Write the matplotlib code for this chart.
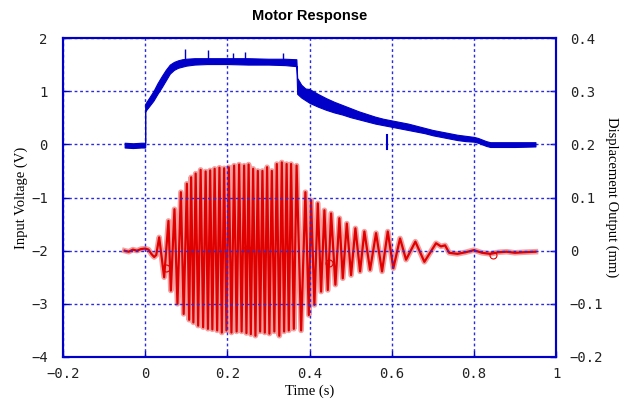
import matplotlib
matplotlib.use("Agg")
import matplotlib.pyplot as plt
from matplotlib.ticker import FuncFormatter, FixedLocator

# ---------------- data ----------------
# Input voltage (V): noisy band given as lower / upper edges
blue_t  = [-0.050, -0.030, -0.010, 0.000, 0.000, 0.010, 0.020, 0.030, 0.040, 0.050, 0.060, 0.070,
           0.080, 0.090, 0.100, 0.120, 0.150, 0.200, 0.250, 0.300, 0.340, 0.368, 0.370, 0.380,
           0.390, 0.400, 0.420, 0.440, 0.460, 0.480, 0.500, 0.520, 0.540, 0.560, 0.580, 0.600,
           0.620, 0.640, 0.660, 0.680, 0.700, 0.720, 0.740, 0.760, 0.780, 0.800, 0.810, 0.820,
           0.830, 0.840, 0.860, 0.900, 0.950]
blue_lo = [-0.06, -0.07, -0.06, -0.06, 0.62, 0.72, 0.82, 0.95, 1.07, 1.20, 1.33, 1.40,
           1.44, 1.46, 1.48, 1.50, 1.51, 1.51, 1.50, 1.50, 1.49, 1.47, 0.95, 0.88,
           0.83, 0.78, 0.71, 0.65, 0.60, 0.56, 0.51, 0.47, 0.43, 0.39, 0.36, 0.33,
           0.30, 0.27, 0.24, 0.21, 0.17, 0.14, 0.11, 0.08, 0.06, 0.05, 0.03, 0.00,
           -0.03, -0.05, -0.05, -0.05, -0.04]
blue_hi = [0.03, 0.02, 0.03, 0.03, 0.76, 0.88, 1.00, 1.15, 1.28, 1.40, 1.50, 1.55,
           1.58, 1.60, 1.61, 1.62, 1.62, 1.62, 1.62, 1.61, 1.61, 1.60, 1.25, 1.12,
           1.05, 1.04, 0.95, 0.87, 0.80, 0.74, 0.68, 0.62, 0.57, 0.52, 0.48, 0.45,
           0.42, 0.39, 0.35, 0.31, 0.27, 0.24, 0.21, 0.18, 0.16, 0.14, 0.12, 0.09,
           0.06, 0.04, 0.04, 0.04, 0.04]
# upward noise spikes on the plateau and the isolated glitch
spike_t = [0.098, 0.152, 0.213, 0.243, 0.336]
spike_v = [1.80, 1.78, 1.72, 1.73, 1.72]
glitch_t = [0.588, 0.588]
glitch_v = [0.18, -0.08]

# Displacement output (mm): baseline, alternating extremes, tail
red_pre_t = [-0.050, -0.040, -0.030, -0.020, -0.010, 0.000, 0.008, 0.015, 0.022, 0.027]
red_pre_v = [0.000, -0.002, 0.002, 0.000, 0.003, 0.004, 0.002, -0.006, -0.012, -0.008]
peak_t = [0.0341, 0.0567, 0.0713, 0.0869, 0.1015, 0.1119, 0.1229, 0.1350, 0.1472, 0.1582,
          0.1691, 0.1808, 0.1922, 0.2036, 0.2165, 0.2287, 0.2409, 0.2518, 0.2628, 0.2742,
          0.2854, 0.2968, 0.3083, 0.3204, 0.3326, 0.3443, 0.3552, 0.3686, 0.3900, 0.4039,
          0.4202, 0.4363, 0.4526, 0.4727, 0.4908, 0.5117, 0.5336, 0.5620, 0.5905, 0.6204,
          0.6577, 0.7080]
peak_v = [0.025, 0.056, 0.078, 0.110, 0.126, 0.138, 0.145, 0.152, 0.149, 0.151,
          0.154, 0.156, 0.155, 0.157, 0.160, 0.162, 0.160, 0.162, 0.154, 0.150,
          0.150, 0.157, 0.150, 0.163, 0.166, 0.163, 0.163, 0.160, 0.110, 0.095,
          0.089, 0.076, 0.070, 0.061, 0.051, 0.042, 0.036, 0.033, 0.036, 0.023,
          0.017, 0.014]
trough_t = [0.0462, 0.0625, 0.0786, 0.0937, 0.1071, 0.1173, 0.1290, 0.1411, 0.1528, 0.1635,
            0.1752, 0.1866, 0.1978, 0.2100, 0.2226, 0.2348, 0.2465, 0.2572, 0.2684, 0.2798,
            0.2912, 0.3024, 0.3144, 0.3265, 0.3382, 0.3496, 0.3618, 0.3796, 0.3983, 0.4119,
            0.4282, 0.4445, 0.4630, 0.4810, 0.5012, 0.5231, 0.5474, 0.5766, 0.6041, 0.6350,
            0.6796]
trough_v = [-0.050, -0.075, -0.100, -0.119, -0.130, -0.135, -0.141, -0.144, -0.147, -0.148,
            -0.150, -0.154, -0.150, -0.154, -0.152, -0.152, -0.155, -0.157, -0.160, -0.152,
            -0.154, -0.156, -0.152, -0.160, -0.152, -0.150, -0.147, -0.150, -0.121, -0.102,
            -0.077, -0.074, -0.064, -0.052, -0.046, -0.039, -0.036, -0.039, -0.033, -0.017,
            -0.021]
red_tail_t = [0.720, 0.730, 0.740, 0.760, 0.780, 0.800, 0.820, 0.840, 0.860, 0.880, 0.900, 0.920, 0.950]
red_tail_v = [0.008, 0.010, -0.004, -0.006, -0.003, 0.001, -0.004, -0.006, -0.003, -0.002, -0.004, -0.003, -0.002]
marker_t = [0.050, 0.248, 0.448, 0.846]
marker_v = [-0.033, 0.004, -0.024, -0.009]

x_ticks = [-0.2, 0, 0.2, 0.4, 0.6, 0.8, 1.0]
left_ticks = [-4, -3, -2, -1, 0, 1, 2]
right_ticks = [-0.2, -0.1, 0, 0.1, 0.2, 0.3, 0.4]

# ---------------- assemble red series ----------------
red_t = list(red_pre_t)
red_v = list(red_pre_v)
for i in range(len(peak_t)):
    red_t.append(peak_t[i]); red_v.append(peak_v[i])
    if i < len(trough_t):
        red_t.append(trough_t[i]); red_v.append(trough_v[i])
red_t += red_tail_t
red_v += red_tail_v

# ---------------- figure ----------------
BLUE = "#0000c8"
RED = "#e00000"
TICKFONT = "DejaVu Sans Mono"
LABELFONT = "Liberation Serif"

fig = plt.figure(figsize=(6.28, 3.99), dpi=100)
ax = fig.add_axes([63/628, 42/399, 493/628, 319/399])
ax2 = ax.twinx()

ax.fill_between(blue_t, blue_lo, blue_hi, color=BLUE, lw=0.8, zorder=3)
ax.vlines(spike_t, 1.58, spike_v, color=BLUE, lw=1.0, zorder=3)
ax.plot(glitch_t, glitch_v, color=BLUE, lw=1.5, zorder=3)

ax2.plot(red_t, red_v, color="#f2a0a0", lw=4.0, solid_joinstyle="round", zorder=2)
ax2.plot(red_t, red_v, color=RED, lw=1.6, solid_joinstyle="round", zorder=3)
ax2.plot(marker_t, marker_v, linestyle="none", marker="o", ms=5, mfc="none",
         mec=RED, mew=0.8, zorder=4)

ax.set_xlim(-0.2, 1.0)
ax.set_ylim(-4, 2)
ax2.set_ylim(-0.2, 0.4)

ax.xaxis.set_major_locator(FixedLocator(x_ticks))
ax.yaxis.set_major_locator(FixedLocator(left_ticks))
ax2.yaxis.set_major_locator(FixedLocator(right_ticks))

def fmt_dec(v, pos):
    if abs(v) < 1e-9:
        return "0"
    if abs(v - round(v)) < 1e-9:
        return f"{int(round(v))}".replace("-", "\u2212")
    return f"{v:.1f}".replace("-", "\u2212")

ax.xaxis.set_major_formatter(FuncFormatter(fmt_dec))
ax.yaxis.set_major_formatter(FuncFormatter(fmt_dec))
ax2.yaxis.set_major_formatter(FuncFormatter(fmt_dec))

ax.grid(True, color="#2a2ae0", linestyle=(0, (2, 2)), lw=1.0, zorder=1)

for a in (ax, ax2):
    for s in a.spines.values():
        s.set_color(BLUE)
        s.set_linewidth(1.5)
    a.tick_params(direction="in", length=4, width=1, color=BLUE, labelsize=10)
    for lab in a.get_xticklabels() + a.get_yticklabels():
        lab.set_fontfamily(TICKFONT)
        lab.set_color("#222222")

ax.tick_params(axis="y", pad=11)
ax.tick_params(axis="x", pad=7)
ax2.tick_params(axis="y", pad=10)

ax.set_xlabel("Time (s)", fontfamily=LABELFONT, fontsize=10.5, labelpad=3)
ax.set_ylabel("Input Voltage (V)", fontfamily=LABELFONT, fontsize=10.5, labelpad=2)
ax2.set_ylabel("Displacement Output (mm)", fontfamily=LABELFONT, fontsize=10.5,
               rotation=270, labelpad=11)
ax.set_title("Motor Response", fontfamily="Liberation Sans", fontweight="bold",
             fontsize=10.5, pad=13)

ax.set_zorder(ax2.get_zorder() + 1)
ax.patch.set_visible(False)

fig.savefig("out.png", dpi=100)
